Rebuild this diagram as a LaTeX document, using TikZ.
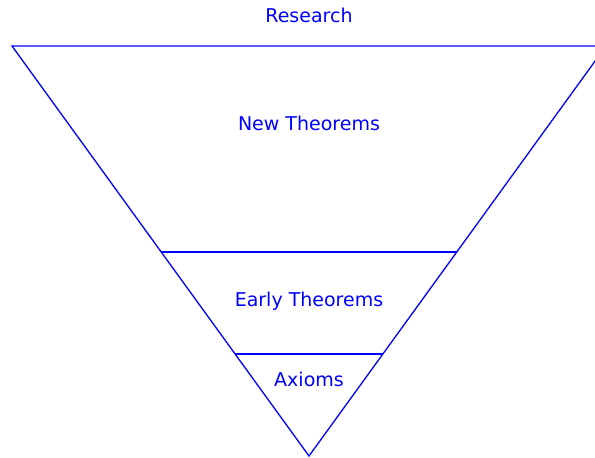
\documentclass[tikz,border=0pt]{standalone}
\usepackage{fontspec}
\setmainfont{DejaVu Sans}
\usepackage{xcolor}
\usepackage{tikz}
\definecolor{figblue}{RGB}{0,0,255}
\tikzset{
  tri/.style  ={draw=figblue, line width=1.3pt, line join=miter},
  lab/.style  ={font=\fontsize{19}{22}\selectfont, text=figblue, inner sep=1pt},
}
\begin{document}
\begin{tikzpicture}[x=1pt,y=-1pt]
  \useasboundingbox (0,0) rectangle (595,458);
  \clip (0,0) rectangle (595,458);
  \coordinate (tl) at (12,46);
  \coordinate (tr) at (606,46);
  \coordinate (apex) at (309,456);
  \coordinate (ml) at (161,252);
  \coordinate (mr) at (457,252);
  \coordinate (bl) at (235,354);
  \coordinate (br) at (383,354);
  \draw[tri] (tl) -- (tr) -- (apex) -- cycle;
  \draw[tri] (ml) -- (mr);
  \draw[tri] (bl) -- (br);
  \node[lab] (research) at (309,15) {Research};
  \node[lab] (newthm) at (309,123) {New Theorems};
  \node[lab] (earlythm) at (309,301) {Early Theorems};
  \node[lab] (axioms) at (309,379) {Axioms};
\end{tikzpicture}
\end{document}
